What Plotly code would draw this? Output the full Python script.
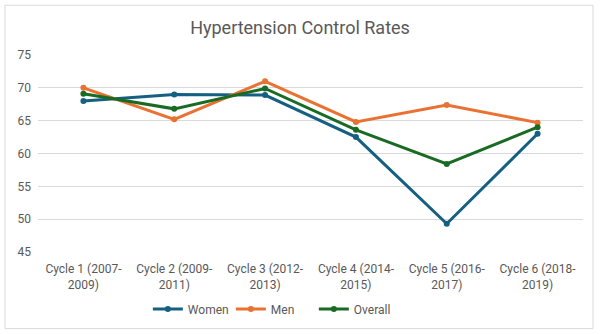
import plotly.graph_objects as go

categories = ["Cycle 1 (2007-<br>2009)", "Cycle 2 (2009-<br>2011)", "Cycle 3 (2012-<br>2013)",
              "Cycle 4 (2014-<br>2015)", "Cycle 5 (2016-<br>2017)", "Cycle 6 (2018-<br>2019)"]
women = [68.0, 69.0, 68.9, 62.5, 49.3, 63.0]
men = [70.0, 65.2, 71.0, 64.8, 67.4, 64.7]
overall = [69.1, 66.8, 69.9, 63.6, 58.4, 64.0]

series = [("Women", women, "#156082"), ("Men", men, "#E97132"), ("Overall", overall, "#196B24")]

fig = go.Figure()
for name, vals, color in series:
    fig.add_trace(go.Scatter(x=categories, y=vals, name=name, mode="lines+markers",
                             line=dict(color=color, width=3), marker=dict(color=color, size=6)))

W, H = 600, 334
ml, mr, mt, mb = 38, 17, 55, 81
pw, ph = W - ml - mr, H - mt - mb
def px(x): return (x - ml) / pw
def py(y): return (H - mb - y) / ph

fig.update_layout(
    width=W, height=H,
    margin=dict(l=ml, r=mr, t=mt, b=mb),
    paper_bgcolor="white", plot_bgcolor="white",
    font=dict(family="Roboto", color="#595959", size=12),
    title=dict(text="Hypertension Control Rates", x=0.5, xanchor="center", y=1 - 28 / H, yanchor="middle",
               font=dict(size=18, color="#595959")),
    showlegend=True,
    legend=dict(orientation="h", x=0.43, xanchor="center", y=py(309), yanchor="middle",
                font=dict(size=12, color="#595959"), entrywidth=38, entrywidthmode="pixels",
                itemwidth=30, tracegroupgap=0),
    xaxis=dict(range=[-0.5, 5.5], showgrid=False, showline=False, ticks="",
               ticklabelstandoff=8, tickfont=dict(size=12, color="#595959")),
    yaxis=dict(range=[45, 75], dtick=5, showgrid=True, gridcolor="#D9D9D9", gridwidth=1,
               zeroline=False, showline=False, ticks="", ticklabelstandoff=6,
               tickfont=dict(size=12, color="#595959")),
    shapes=[dict(type="rect", xref="paper", yref="paper", x0=px(5), x1=px(593), y0=py(330), y1=py(5),
                 line=dict(color="#D9D9D9", width=1), fillcolor="rgba(0,0,0,0)", layer="below")],
)

fig.write_html("out.html")
